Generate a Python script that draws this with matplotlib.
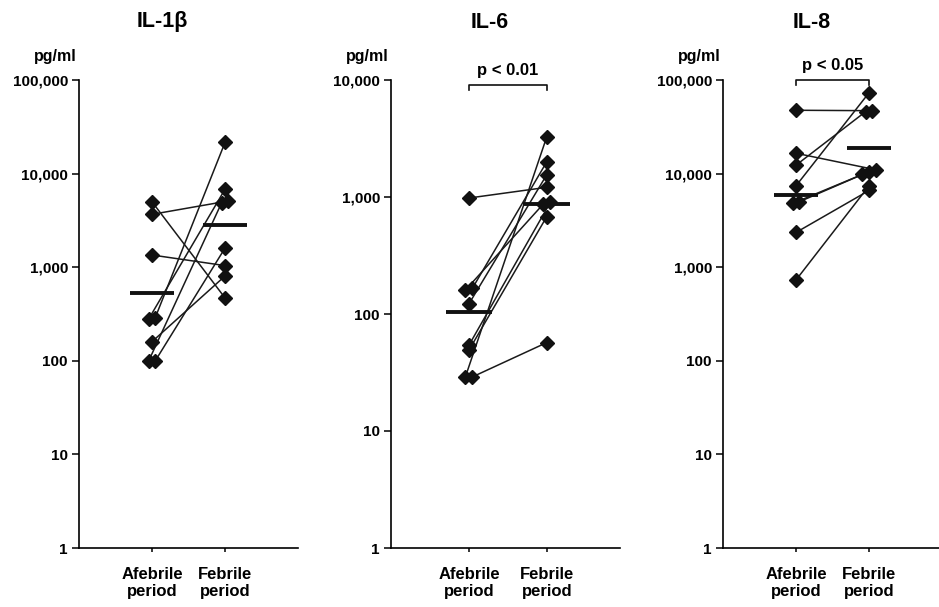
import matplotlib

matplotlib.use("Agg")
import matplotlib.pyplot as plt
import matplotlib.transforms as mtransforms
import numpy as np

plt.rcParams["font.family"] = ["Liberation Sans", "DejaVu Sans"]
plt.rcParams["font.weight"] = "bold"

PERIODS = ["Afebrile\nperiod", "Febrile\nperiod"]
Y_TICK_LABELS = ["1", "10", "100", "1,000", "10,000", "100,000"]

# paired values per patient (same index = same patient), pg/ml
il1b_afebrile = [5000, 3670, 1350, 290, 280, 160, 100, 100]
il1b_febrile = [470, 5100, 1040, 21500, 6800, 805, 4900, 1600]
il1b_median = [530, 2800]

il6_afebrile = [980, 166, 160, 122, 54, 49, 29, 29]
il6_febrile = [1210, 2000, 870, 1550, 900, 680, 3270, 57]
il6_median = [105, 870]

il8_afebrile = [47500, 16500, 12300, 7400, 5000, 4800, 2350, 730]
il8_febrile = [47000, 11000, 46000, 73000, 10500, 9800, 6600, 7400]
il8_median = [5900, 19000]

W, H = 939, 607


def px_rect(left, right, top, bottom):
    return [left / W, 1 - bottom / H, (right - left) / W, (bottom - top) / H]


def tie_offsets(values, tol=0.03, step=0.09):
    logs = np.log10(values)
    order = np.argsort(logs)
    offsets = np.zeros(len(values))
    cluster = [order[0]]
    for idx in list(order[1:]) + [None]:
        if idx is not None and logs[idx] - logs[cluster[-1]] < tol:
            cluster.append(idx)
            continue
        n = len(cluster)
        for k, c in enumerate(cluster):
            offsets[c] = (k - (n - 1) / 2) * step
        if idx is not None:
            cluster = [idx]
    return offsets


panels = [
    dict(title="IL-1β", before=il1b_afebrile, after=il1b_febrile, median=il1b_median,
         decades=5, rect=px_rect(79, 298, 80, 548), xlim=(0, 3.0), title_x=162,
         pval=None),
    dict(title="IL-6", before=il6_afebrile, after=il6_febrile, median=il6_median,
         decades=4, rect=px_rect(391, 620, 80, 548), xlim=(0, 2.94), title_x=490,
         pval=("p < 0.01", 0.990, 0.978, 1.004)),
    dict(title="IL-8", before=il8_afebrile, after=il8_febrile, median=il8_median,
         decades=5, rect=px_rect(723, 942, 80, 548), xlim=(0, 3.0), title_x=812,
         pval=("p < 0.05", 1.0, 0.99, 1.016)),
]

fig = plt.figure(figsize=(W / 100, H / 100), dpi=100)
fig.patch.set_facecolor("white")

for p in panels:
    ax = fig.add_axes(p["rect"])
    ax.set_yscale("log")
    ax.set_ylim(1, 10 ** p["decades"])
    ax.set_xlim(*p["xlim"])
    ax.spines["top"].set_visible(False)
    ax.spines["right"].set_visible(False)
    ax.spines["left"].set_linewidth(1.2)
    ax.spines["bottom"].set_linewidth(1.2)

    before = np.array(p["before"], dtype=float)
    after = np.array(p["after"], dtype=float)
    xb = 1 + tie_offsets(before)
    xa = 2 + tie_offsets(after)
    for i in range(len(before)):
        ax.plot([xb[i], xa[i]], [before[i], after[i]], color="#1a1a1a", lw=1.1, zorder=2)
    ax.plot(xb, before, "D", color="#111111", ms=7, zorder=3)
    ax.plot(xa, after, "D", color="#111111", ms=7, zorder=3)
    for x, m in zip([1, 2], p["median"]):
        ax.plot([x - 0.3, x + 0.3], [m, m], color="#111111", lw=2.8, solid_capstyle="butt", zorder=4)

    ticks = [10 ** k for k in range(p["decades"] + 1)]
    ax.set_yticks(ticks)
    ax.set_yticklabels(Y_TICK_LABELS[: p["decades"] + 1])
    ax.yaxis.set_minor_locator(matplotlib.ticker.NullLocator())
    ax.tick_params(axis="y", length=5, width=1.1, pad=3, labelsize=11)
    ax.set_xticks([1, 2])
    ax.set_xticklabels(PERIODS, linespacing=1.1)
    ax.tick_params(axis="x", length=3, width=1.1, pad=11, labelsize=12)
    for lab in ax.get_xticklabels() + ax.get_yticklabels():
        lab.set_fontweight("bold")

    ax.text(-0.01, 1 + 23 / 468, "pg/ml", transform=ax.transAxes, ha="right", va="center",
            fontsize=11.5, fontweight="bold")
    fig.text(p["title_x"] / W, 1 - 22 / H, p["title"], ha="center", va="center",
             fontsize=15.5, fontweight="bold")

    if p["pval"] is not None:
        text, top, leg, ty = p["pval"]
        trans = mtransforms.blended_transform_factory(ax.transData, ax.transAxes)
        ax.plot([1, 1, 2, 2], [leg, top, top, leg], transform=trans, color="#111111",
                lw=1.2, clip_on=False)
        ax.text(1.5, ty, text, transform=trans, ha="center", va="bottom",
                fontsize=12, fontweight="bold")

fig.savefig("out.png", dpi=100, facecolor="white")
